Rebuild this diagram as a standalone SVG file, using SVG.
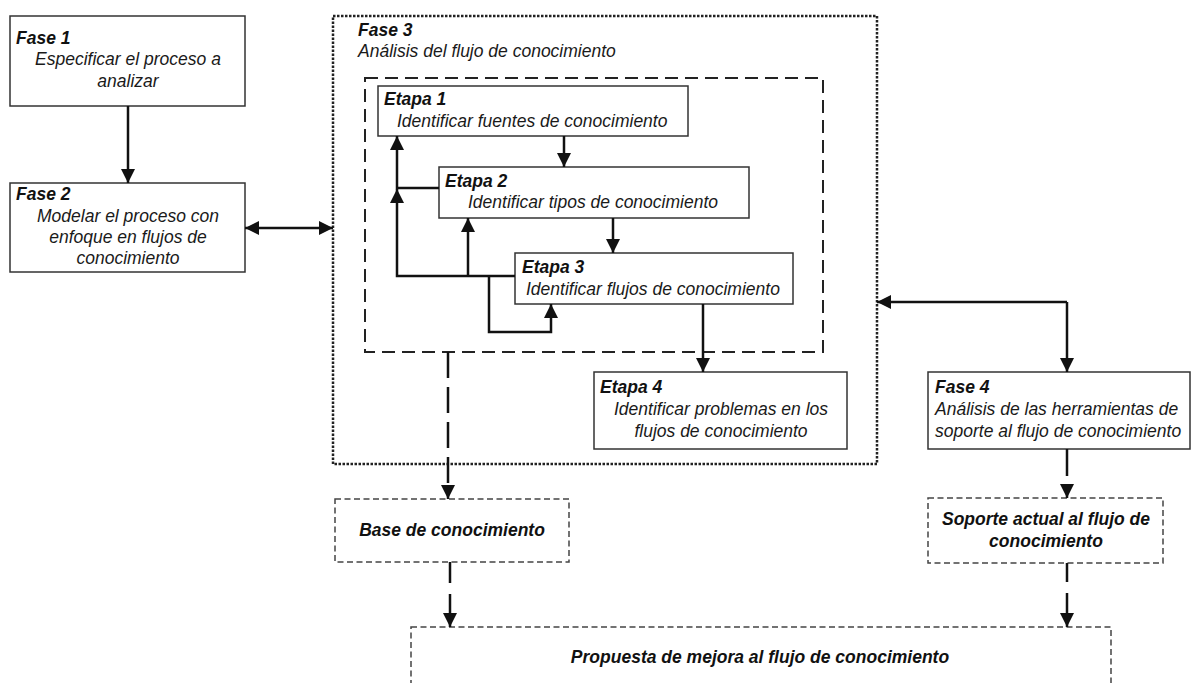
<svg xmlns="http://www.w3.org/2000/svg" width="1191" height="683" viewBox="0 0 1191 683">
<style>
.box{fill:#fff;stroke:#333;stroke-width:1.5}
.dbox{fill:#fff;stroke:#444;stroke-width:1.5;stroke-dasharray:6 3.5}
.t{font-family:"Liberation Sans",Arial,sans-serif;font-size:17.5px;font-style:italic;fill:#1a1a1a}
.b{font-weight:bold;fill:#111}
.c{text-anchor:middle}
.ln{fill:none;stroke:#111;stroke-width:2.5}
.ld{fill:none;stroke:#111;stroke-width:2.5;stroke-dasharray:26 9}
</style>
<defs>
<marker id="ah" markerUnits="userSpaceOnUse" markerWidth="14" markerHeight="14" refX="12" refY="6" orient="auto-start-reverse" viewBox="0 0 12 12">
<path d="M0,0 L12,6 L0,12 Z" fill="#111"/>
</marker>
</defs>
<rect width="1191" height="683" fill="#fff"/>

<g id="fase3">
<rect x="333" y="16" width="544" height="448" fill="none" stroke="#222" stroke-width="2.5" stroke-dasharray="2.5 1.5"/>
<text class="t b" x="358" y="36">Fase 3</text>
<text class="t" x="358" y="57">Análisis del flujo de conocimiento</text>
</g>
<g id="fase3-inner">
<rect x="365" y="78" width="458" height="274" fill="none" stroke="#222" stroke-width="2" stroke-dasharray="13 7"/>
</g>

<g id="fase1">
<rect class="box" x="10" y="16" width="235" height="90"/>
<text class="t b" x="16" y="44">Fase 1</text>
<text class="t c" x="128" y="65">Especificar el proceso a</text>
<text class="t c" x="128" y="87">analizar</text>
</g>
<g id="fase2">
<rect class="box" x="10" y="183" width="235" height="89"/>
<text class="t b" x="16" y="200">Fase 2</text>
<text class="t c" x="128" y="222">Modelar el proceso con</text>
<text class="t c" x="128" y="243">enfoque en flujos de</text>
<text class="t c" x="128" y="264">conocimiento</text>
</g>
<g id="etapa1">
<rect class="box" x="378" y="86" width="310" height="50"/>
<text class="t b" x="384" y="105">Etapa 1</text>
<text class="t" x="397" y="127">Identificar fuentes de conocimiento</text>
</g>
<g id="etapa2">
<rect class="box" x="439" y="167" width="310" height="51"/>
<text class="t b" x="445" y="187">Etapa 2</text>
<text class="t" x="468" y="208">Identificar tipos de conocimiento</text>
</g>
<g id="etapa3">
<rect class="box" x="515" y="253" width="278" height="51"/>
<text class="t b" x="522" y="273">Etapa 3</text>
<text class="t" x="526" y="295">Identificar flujos de conocimiento</text>
</g>
<g id="etapa4">
<rect class="box" x="594" y="372" width="253" height="77"/>
<text class="t b" x="600" y="393">Etapa 4</text>
<text class="t c" x="721" y="415">Identificar problemas en los</text>
<text class="t c" x="721" y="437">flujos de conocimiento</text>
</g>
<g id="fase4">
<rect class="box" x="928" y="372" width="262" height="77"/>
<text class="t b" x="935" y="393">Fase 4</text>
<text class="t" x="935" y="415">Análisis de las herramientas de</text>
<text class="t" x="935" y="437">soporte al flujo de conocimiento</text>
</g>
<g id="base">
<rect class="dbox" x="335" y="499" width="234" height="63"/>
<text class="t b c" x="452" y="536">Base de conocimiento</text>
</g>
<g id="soporte">
<rect class="dbox" x="928" y="498" width="235" height="65"/>
<text class="t b c" x="1046" y="525">Soporte actual al flujo de</text>
<text class="t b c" x="1046" y="547">conocimiento</text>
</g>
<g id="propuesta">
<rect class="dbox" x="411" y="627" width="700" height="80"/>
<text class="t b c" x="760" y="663">Propuesta de mejora al flujo de conocimiento</text>
</g>

<g id="connectors">
<line class="ln" x1="128" y1="106" x2="128" y2="183" marker-end="url(#ah)"/>
<line class="ln" x1="245" y1="228" x2="333" y2="228" marker-start="url(#ah)" marker-end="url(#ah)"/>
<line class="ln" x1="564" y1="136" x2="564" y2="167" marker-end="url(#ah)"/>
<line class="ln" x1="613" y1="218" x2="613" y2="253" marker-end="url(#ah)"/>
<line class="ln" x1="703" y1="304" x2="703" y2="372" marker-end="url(#ah)"/>
<polyline class="ln" points="515,276 397,276 397,189" marker-end="url(#ah)"/>
<polyline class="ln" points="439,188 397,188 397,136" marker-end="url(#ah)"/>
<polyline class="ln" points="468,276 468,218" marker-end="url(#ah)"/>
<polyline class="ln" points="489,276 489,332 551,332 551,304" marker-end="url(#ah)"/>
<polyline class="ln" points="1067,302 877,302" marker-end="url(#ah)"/>
<polyline class="ln" points="1067,302 1067,372" marker-end="url(#ah)"/>
<line class="ld" x1="448" y1="352" x2="448" y2="499" stroke-dasharray="28 8 28 8 28 8 40" marker-end="url(#ah)"/>
<line class="ln" x1="450" y1="562" x2="450" y2="583"/>
<line class="ln" x1="450" y1="594" x2="450" y2="627" marker-end="url(#ah)"/>
<line class="ln" x1="1067" y1="449" x2="1067" y2="476"/>
<line class="ln" x1="1067" y1="484" x2="1067" y2="498" marker-end="url(#ah)"/>
<line class="ln" x1="1067" y1="563" x2="1067" y2="582"/>
<line class="ln" x1="1067" y1="593" x2="1067" y2="627" marker-end="url(#ah)"/>
</g>
</svg>
